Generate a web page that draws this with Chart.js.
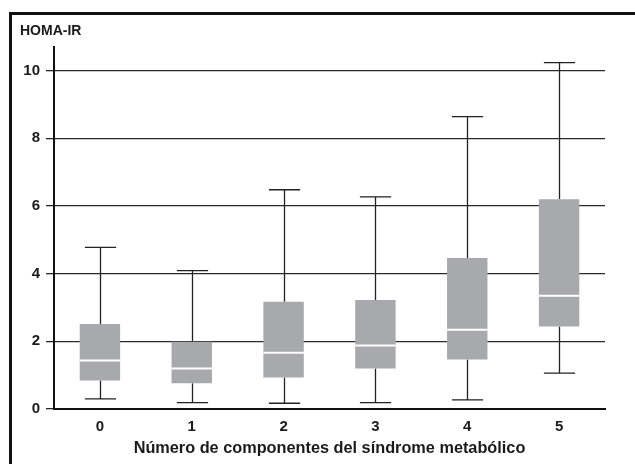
<!DOCTYPE html>
<html>
<head>
<meta charset="utf-8">
<script src="https://cdn.jsdelivr.net/npm/chart.js@4.4.1/dist/chart.umd.min.js"></script>
<style>
  html, body { margin: 0; padding: 0; background: #fff; }
  #wrap { position: relative; width: 635px; height: 464px; overflow: hidden; }
  #frame { position: absolute; left: 9px; top: 12px; right: -10px; bottom: -10px;
           border-top: 3px solid #111; border-left: 3px solid #111; }
  canvas { position: absolute; left: 0; top: 0; }
</style>
</head>
<body>
<div id="wrap">
  <div id="frame"></div>
  <canvas id="c" width="635" height="464"></canvas>
</div>
<script>
const categories = ['0', '1', '2', '3', '4', '5'];
const whiskerLow  = [0.30, 0.19, 0.17, 0.19, 0.27, 1.06];
const q1          = [0.84, 0.76, 0.93, 1.20, 1.46, 2.44];
const median      = [1.43, 1.20, 1.66, 1.88, 2.34, 3.35];
const q3          = [2.51, 1.99, 3.17, 3.22, 4.46, 6.20];
const whiskerHigh = [4.78, 4.09, 6.48, 6.27, 8.64, 10.24];
const yTickValues = [0, 2, 4, 6, 8, 10];
const yTitle = 'HOMA-IR';
const xTitle = 'Número de componentes del síndrome metabólico';

const FONT = "'Liberation Sans', Arial, sans-serif";
const INK = '#1a1a1a';

const boxPlugin = {
  id: 'boxParts',
  beforeDatasetsDraw(chart) {
    const ctx = chart.ctx;
    const xs = chart.scales.x, ys = chart.scales.y;
    const catW = (xs.right - xs.left) / categories.length;
    const capW = catW * 0.34;
    ctx.save();
    ctx.strokeStyle = '#222';
    ctx.lineWidth = 1.3;
    categories.forEach((c, i) => {
      const x = Math.round(xs.getPixelForValue(i)) + 0.5;
      const yl = ys.getPixelForValue(whiskerLow[i]);
      const yh = ys.getPixelForValue(whiskerHigh[i]);
      const y1 = ys.getPixelForValue(q1[i]);
      const y3 = ys.getPixelForValue(q3[i]);
      ctx.beginPath();
      ctx.moveTo(x, yh); ctx.lineTo(x, y3);
      ctx.moveTo(x, y1); ctx.lineTo(x, yl);
      ctx.moveTo(x - capW / 2, yh); ctx.lineTo(x + capW / 2, yh);
      ctx.moveTo(x - capW / 2, yl); ctx.lineTo(x + capW / 2, yl);
      ctx.stroke();
    });
    ctx.restore();
  },
  afterDatasetsDraw(chart) {
    const ctx = chart.ctx;
    const ys = chart.scales.y;
    const meta = chart.getDatasetMeta(0);
    ctx.save();
    ctx.strokeStyle = '#ffffff';
    ctx.lineWidth = 2;
    meta.data.forEach((bar, i) => {
      const y = ys.getPixelForValue(median[i]);
      ctx.beginPath();
      ctx.moveTo(bar.x - bar.width / 2, y);
      ctx.lineTo(bar.x + bar.width / 2, y);
      ctx.stroke();
    });
    ctx.restore();
  },
  afterDraw(chart) {
    const ctx = chart.ctx;
    ctx.save();
    ctx.fillStyle = INK;
    ctx.font = "bold 14px " + FONT;
    ctx.textAlign = 'left';
    ctx.textBaseline = 'alphabetic';
    ctx.fillText(yTitle, 20, 35);
    ctx.restore();
  }
};

new Chart(document.getElementById('c'), {
  type: 'bar',
  data: {
    labels: categories,
    datasets: [{
      data: categories.map((c, i) => [q1[i], q3[i]]),
      backgroundColor: '#a8a9ac',
      borderWidth: 0,
      categoryPercentage: 1,
      barPercentage: 0.44
    }]
  },
  options: {
    responsive: false,
    animation: false,
    devicePixelRatio: 1,
    layout: { padding: { left: 0, right: 30, top: 47, bottom: 0 } },
    plugins: { legend: { display: false }, tooltip: { enabled: false } },
    scales: {
      x: {
        grid: { display: false, drawTicks: false },
        border: { display: true, color: '#111', width: 2 },
        ticks: { color: INK, font: { family: FONT, size: 15, weight: 'bold' }, padding: 9 },
        title: { display: true, text: xTitle, color: INK,
                 font: { family: FONT, size: 16.3, weight: 'bold' }, padding: { top: 0, bottom: 6 } },
        afterFit(s) { s.height = 55; }
      },
      y: {
        min: 0, max: 10.7,
        afterBuildTicks(s) { s.ticks = yTickValues.map(v => ({ value: v })); },
        ticks: { color: INK, font: { family: FONT, size: 15, weight: 'bold' }, padding: 6,
                 includeBounds: false },
        grid: { color: '#2a2a2a', lineWidth: 1.3, tickLength: 8, drawTicks: true },
        border: { display: true, color: '#111', width: 2 },
        afterFit(s) { s.width = 54; }
      }
    }
  },
  plugins: [boxPlugin]
});
</script>
</body>
</html>
